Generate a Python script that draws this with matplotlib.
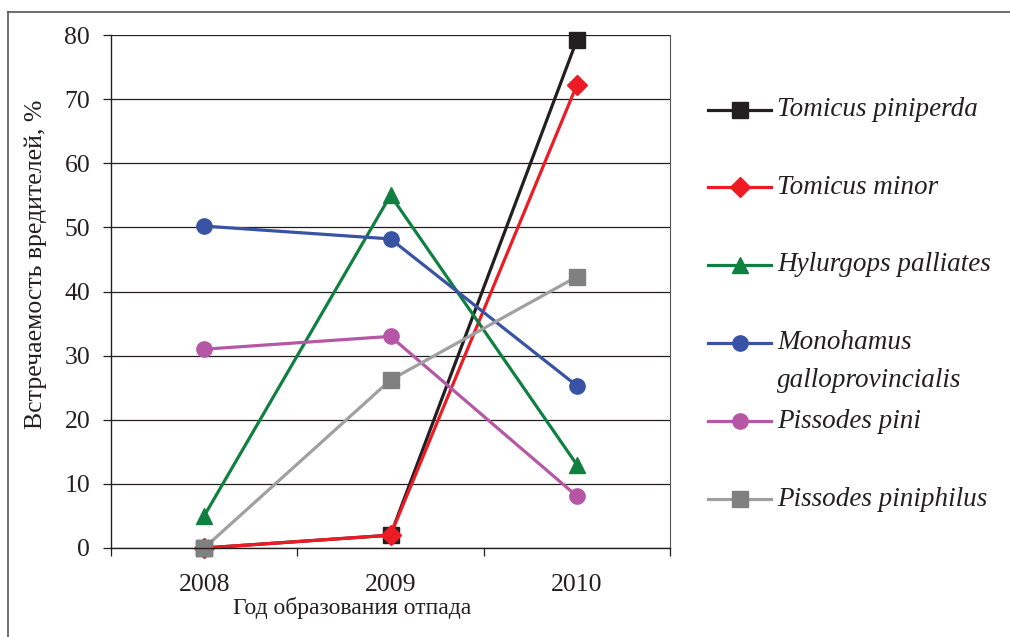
import matplotlib
matplotlib.use("Agg")
import matplotlib.pyplot as plt
from matplotlib.lines import Line2D

plt.rcParams['font.family'] = ['Liberation Serif', 'DejaVu Serif']

years = ['2008', '2009', '2010']
species = ['Tomicus piniperda', 'Tomicus minor', 'Hylurgops palliates',
           'Monohamus\ngalloprovincialis', 'Pissodes pini', 'Pissodes piniphilus']
piniperda = [0, 2, 79.2]
minor = [0, 2, 72.2]
hylurgops = [5, 55, 13]
monohamus = [50.2, 48.2, 25.3]
pini = [31, 33, 8.1]
piniphilus = [0, 26.2, 42.3]

series = [piniperda, minor, hylurgops, monohamus, pini, piniphilus]
line_colors = ['#231f20', '#ed1c24', '#0f8040', '#3953a4', '#b657a6', '#a0a0a2']
marker_colors = ['#231f20', '#ed1c24', '#0f8040', '#3953a4', '#b657a6', '#808080']
markers = ['s', 'D', '^', 'o', 'o', 's']
msizes = [11, 10, 12, 11, 11, 11]

fig = plt.figure(figsize=(10.1, 6.37), dpi=100)
ax = fig.add_axes([111 / 1010, 89 / 637, 559 / 1010, 513 / 637])

x = [1, 2, 3]
for vals, lc, mc, m, ms in zip(series, line_colors, marker_colors, markers, msizes):
    ax.plot(x, vals, color=lc, lw=2.3, marker=m, markersize=ms,
            markerfacecolor=mc, markeredgecolor=mc, clip_on=False)

ax.set_xlim(0.5, 3.5)
ax.set_ylim(0, 80)
ax.set_yticks(range(0, 81, 10))
ax.set_xticks([0.5, 1.5, 2.5, 3.5])
ax.set_xticklabels([])
ax.set_xticks(x, minor=True)
ax.set_xticklabels(years, minor=True)
ax.tick_params(axis='x', which='major', direction='out', length=6, width=0.9, color='#231f20')
ax.tick_params(axis='x', which='minor', length=0, pad=19, labelsize=18.5, labelcolor='#231f20')
ax.tick_params(axis='y', direction='out', length=6, width=0.9, pad=9, labelsize=18.5,
               color='#231f20', labelcolor='#231f20')
ax.yaxis.grid(True, color='#231f20', lw=0.9)
ax.set_axisbelow(True)
for s in ['left', 'bottom']:
    ax.spines[s].set_color('#231f20')
    ax.spines[s].set_linewidth(1.0)
ax.spines['top'].set_visible(False)
ax.spines['right'].set_color('#555555')
ax.spines['right'].set_linewidth(0.8)

fig.text(352 / 1010, 1 - 608 / 637, 'Год образования отпада', ha='center', va='center',
         fontsize=17, color='#231f20')
fig.text(36 / 1010, 1 - 264 / 637, 'Встречаемость вредителей, %', ha='center', va='center',
         rotation=90, fontsize=18.5, color='#231f20')

# legend drawn by hand so the two-line entry keeps its handle on the first line
rows = [110, 187, 265, 343, 421, 499]
for name, lc, mc, m, ms, yr in zip(species, line_colors, marker_colors, markers, msizes, rows):
    yf = 1 - yr / 637
    fig.add_artist(Line2D([708 / 1010, 771 / 1010], [yf, yf], color=lc, lw=2.3,
                          transform=fig.transFigure))
    fig.add_artist(Line2D([740 / 1010], [yf], marker=m, markersize=ms, color=mc,
                          transform=fig.transFigure))
    ty = 1 - (yr + 18.5) / 637 if '\n' in name else yf
    fig.text(777 / 1010, ty, name, ha='left', va='center',
             fontsize=19.5, style='italic', color='#231f20', linespacing=1.64)

# frame around the figure (only left and top edges are visible in the picture)
fig.add_artist(Line2D([8 / 1010, 8 / 1010], [0, 1 - 12 / 637], color='#555555', lw=1.2,
                      transform=fig.transFigure))
fig.add_artist(Line2D([8 / 1010, 1], [1 - 12 / 637, 1 - 12 / 637], color='#555555', lw=1.2,
                      transform=fig.transFigure))

fig.savefig('out.png', dpi=100)
